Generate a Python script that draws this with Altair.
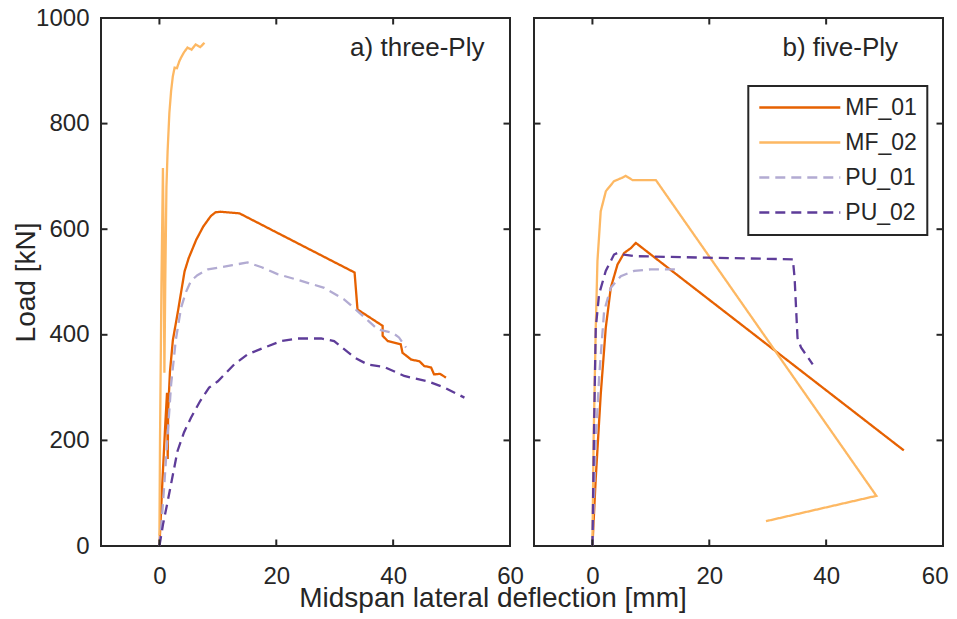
import altair as alt
import pandas as pd

# ---------------- data ----------------
series = ["MF_01", "MF_02", "PU_01", "PU_02"]
colors = ["#e66101", "#fdb863", "#b2abd2", "#5e3c99"]
dashes = [[1, 0], [1, 0], [10, 6], [10, 6]]
panel_labels = ["a) three-Ply", "b) five-Ply"]
x_ticks = [0, 20, 40, 60]
y_ticks = [0, 200, 400, 600, 800, 1000]

# panel a) three-Ply
a_mf01_x = [0, 0.5, 1.0, 1.3, 1.42, 1.5, 1.8, 2.3, 3.1, 4.3, 5.0, 6.3, 7.5, 8.8, 9.6, 10.5, 13.7,
            33.4, 33.9, 38.2, 38.2, 39.1, 41.3, 41.6, 43.1, 44.5, 45.3, 46.5, 47.0, 48.0, 49.05]
a_mf01_y = [0, 120, 230, 290, 165, 260, 330, 390, 440, 520, 545, 580, 605, 625, 632, 633, 630,
            518, 448, 417, 398, 388, 382, 366, 353, 350, 341, 338, 325, 326, 319]
a_mf02_x = [0.0, 0.1, 0.35, 0.6, 0.7, 0.85, 1.0, 1.2, 1.4, 1.7, 2.0, 2.3, 2.6, 3.0, 3.4, 3.7,
            4.2, 4.8, 5.5, 6.2, 7.0, 7.7]
a_mf02_y = [20, 200, 500, 716, 600, 328, 500, 680, 748, 820, 862, 890, 906, 905, 918, 925,
            935, 944, 940, 950, 945, 953]
a_pu01_x = [0, 0.4, 0.84, 1.4, 2.0, 2.8, 3.7, 4.5, 5.4, 6.5, 8.3, 10.0, 12.5, 15.1, 17.5, 20.2,
            24.0, 28.2, 31.6, 33.9, 37.4, 39.9, 41.0, 42.2]
a_pu01_y = [0, 50, 117, 210, 306, 390, 451, 480, 502, 513, 524, 527, 532, 537, 528, 515,
            503, 489, 467, 445, 410, 404, 395, 376]
a_pu02_x = [0, 0.6, 1.42, 2.3, 3.1, 4.2, 5.4, 7.0, 8.5, 10.0, 12.8, 15.1, 18.0, 20.8, 23.7,
            27.7, 29.9, 33.4, 35.6, 38.5, 41.9, 45.9, 48.8, 52.2]
a_pu02_y = [0, 40, 85, 135, 180, 215, 243, 275, 300, 312, 344, 363, 376, 388, 393,
            393, 388, 357, 344, 339, 322, 312, 300, 281]

# panel b) five-Ply
b_mf01_x = [0, 0.57, 1.42, 2.28, 3.14, 4.29, 5.43, 6.57, 7.43, 53.3]
b_mf01_y = [0, 129, 287, 413, 489, 533, 555, 564, 574, 181]
b_mf02_x = [0.0, 0.2, 0.57, 0.86, 1.42, 2.3, 3.7, 5.0, 5.7, 6.86, 10.86, 48.6, 29.7]
b_mf02_y = [0, 200, 413, 540, 634, 672, 691, 697, 701, 693, 693, 95, 47]
b_pu01_x = [0, 0.57, 1.14, 2.0, 3.14, 4.86, 7.14, 10.0, 14.6]
b_pu01_y = [0, 197, 319, 445, 489, 511, 521, 524, 524]
b_pu02_x = [0, 0.28, 0.57, 1.14, 2.28, 3.7, 4.3, 5.4, 7.1, 19.7, 34.3, 34.6, 35.1, 35.7, 37.7]
b_pu02_y = [0, 224, 413, 477, 521, 552, 555, 552, 549, 546, 543, 508, 394, 376, 344]

# ---------------- layout / style ----------------
W, H = 409, 528
TICK = 6.5
XDOM = [-10, 60]
YDOM = [0, 1000]
INK = "#262626"
FONT = "Liberation Sans"
TICK_Y = TICK * (YDOM[1] - YDOM[0]) / H      # tick length in load units
TICK_X = TICK * (XDOM[1] - XDOM[0]) / W      # tick length in mm units


def build(pairs):
    rows = []
    for s, (xs, ys) in zip(series, pairs):
        for i, (x, y) in enumerate(zip(xs, ys)):
            rows.append({"series": s, "i": i, "x": x, "y": y})
    return pd.DataFrame(rows)


df_a = build([(a_mf01_x, a_mf01_y), (a_mf02_x, a_mf02_y), (a_pu01_x, a_pu01_y), (a_pu02_x, a_pu02_y)])
df_b = build([(b_mf01_x, b_mf01_y), (b_mf02_x, b_mf02_y), (b_pu01_x, b_pu01_y), (b_pu02_x, b_pu02_y)])

ix = [t for t in x_ticks if XDOM[0] < t < XDOM[1]]
iy = [t for t in y_ticks if YDOM[0] < t < YDOM[1]]
# inward tick segments along the box (bottom, top, left, right)
tick_bottom = pd.DataFrame({"x": ix, "y": [YDOM[0]] * len(ix), "y_end": [YDOM[0] + TICK_Y] * len(ix)})
tick_top = pd.DataFrame({"x": ix, "y": [YDOM[1]] * len(ix), "y_end": [YDOM[1] - TICK_Y] * len(ix)})
tick_left = pd.DataFrame({"y": iy, "x": [XDOM[0]] * len(iy), "x_end": [XDOM[0] + TICK_X] * len(iy)})
tick_right = pd.DataFrame({"y": iy, "x": [XDOM[1]] * len(iy), "x_end": [XDOM[1] - TICK_X] * len(iy)})


def panel(df, label, left, label_right):
    xscale = alt.Scale(domain=XDOM, nice=False, zero=False)
    yscale = alt.Scale(domain=YDOM, nice=False)
    if left:
        xaxis = alt.Axis(values=x_ticks, labelFlush=False,
                         title="Midspan lateral deflection [mm]",
                         titleX=391.5, titleY=60, titleAlign="center",
                         titleBaseline="alphabetic")
        yaxis = alt.Axis(values=y_ticks, format="d", title="Load [kN]", titleX=-67,
                         titleY=H / 2, titleAngle=270, titleAlign="center",
                         titleBaseline="alphabetic")
    else:
        xaxis = alt.Axis(values=x_ticks, labelFlush=True, labelFlushOffset=5, title=None)
        yaxis = None

    def X(f):
        return alt.X(f"{f}:Q", scale=xscale, axis=xaxis)

    def Y(f):
        return alt.Y(f"{f}:Q", scale=yscale, axis=yaxis)

    if left:
        leg = None
    else:
        leg = alt.Legend(title=None, orient="none", legendX=214.3, legendY=68,
                         symbolType="M-4.5,0H4.5", symbolSize=324, symbolStrokeWidth=2.4,
                         symbolOffset=30, labelOffset=34, labelFontSize=23, labelFont=FONT,
                         labelColor=INK, padding=10, rowPadding=11, strokeColor=INK,
                         fillColor="white")

    lines = alt.Chart(df).mark_line(strokeWidth=2.3, clip=True).encode(
        x=X("x"), y=Y("y"),
        color=alt.Color("series:N", scale=alt.Scale(domain=series, range=colors), legend=leg),
        strokeDash=alt.StrokeDash("series:N", scale=alt.Scale(domain=series, range=dashes), legend=leg),
        order=alt.Order("i:Q"),
    )
    rules = []
    for tdf in (tick_bottom, tick_top):
        rules.append(alt.Chart(tdf).mark_rule(color=INK, strokeWidth=2).encode(
            x=X("x"), y=Y("y"), y2=alt.Y2("y_end")))
    for tdf in (tick_left, tick_right):
        rules.append(alt.Chart(tdf).mark_rule(color=INK, strokeWidth=2).encode(
            y=Y("y"), x=X("x"), x2=alt.X2("x_end")))
    txt = alt.Chart(pd.DataFrame({"label": [label]})).mark_text(
        align="right", baseline="alphabetic", fontSize=26, font=FONT, color=INK
    ).encode(x=alt.value(W - label_right), y=alt.value(38), text="label:N")
    return alt.layer(lines, *rules, txt).properties(width=W, height=H)


left = panel(df_a, panel_labels[0], True, 25.5)
right = panel(df_b, panel_labels[1], False, 45)

chart = (
    alt.hconcat(left, right, spacing=24, bounds="flush")
    .resolve_scale(color="independent", strokeDash="independent")
    .resolve_legend(color="independent", strokeDash="independent")
    .properties(padding={"left": 3, "top": -3, "right": 0, "bottom": 0})
    .configure_view(stroke=INK, strokeWidth=2)
    .configure_axis(domain=False, ticks=False, tickSize=0, grid=False,
                    labelFont=FONT, labelFontSize=24, labelColor=INK,
                    labelPadding=12, titleFont=FONT, titleFontSize=28,
                    titleFontWeight="normal", titleColor=INK)
    .configure_axisX(labelPadding=18)
    .configure_legend(strokeWidth=2)
)

chart.save("out.html", embed_options={"renderer": "svg", "actions": False})
